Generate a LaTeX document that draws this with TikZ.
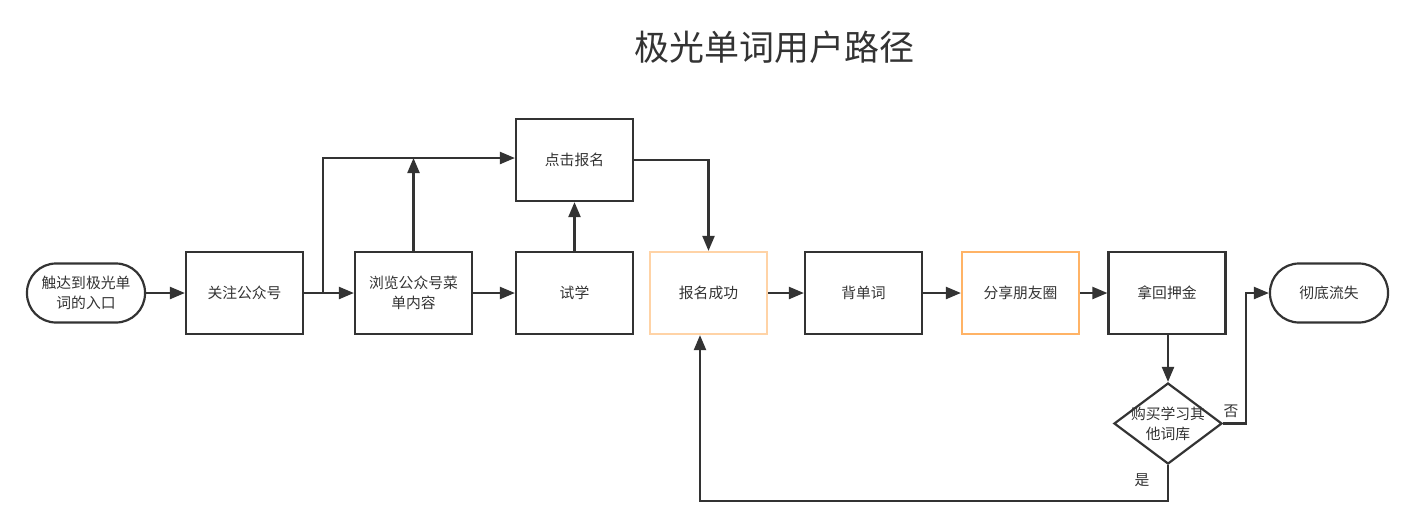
\documentclass[tikz,border=0pt]{standalone}
\usepackage{fontspec}
\setmainfont{Noto Sans CJK SC}
\usetikzlibrary{shapes.geometric,arrows.meta}
\definecolor{ln}{HTML}{333333}
\definecolor{txt}{HTML}{333333}
\definecolor{orL}{HTML}{FFD3A6}
\definecolor{orM}{HTML}{FFB366}
\tikzset{
  box/.style={draw=ln, line width=2.2pt, minimum width=117pt, minimum height=82pt, inner sep=0pt, align=center, text=txt, font=\fontsize{14.8}{20}\selectfont},
  term/.style={draw=ln, line width=2.2pt, rounded corners=29pt, minimum width=118pt, minimum height=59pt, inner sep=0pt, align=center, text=txt, font=\fontsize{14.8}{20}\selectfont},
  dec/.style={draw=ln, line width=2.2pt, diamond, minimum width=108pt, minimum height=81pt, inner sep=0pt},
  dectext/.style={align=center, text=txt, font=\fontsize{14.8}{20}\selectfont, inner sep=0pt},
  conn/.style={draw=ln, line width=2.2pt, -{Triangle[length=15pt,width=12pt]}},
  lab/.style={text=txt, font=\fontsize{14.8}{17}\selectfont, inner sep=0pt}
}
\begin{document}
\begin{tikzpicture}[x=1pt,y=-1pt]
\useasboundingbox (0,0) rectangle (1406,531);
\node[text=txt, font=\fontsize{35}{40}\selectfont, inner sep=0pt] (title) at (774,47) {极光单词用户路径};
\node[term] (start) at (86,293) {触达到极光单\\词的入口};
\node[box] (follow) at (244.5,293) {关注公众号};
\node[box] (browse) at (413.5,293) {浏览公众号菜\\单内容};
\node[box] (try) at (574.5,293) {试学};
\node[box] (click) at (574.5,160) {点击报名};
\node[box, draw=orL] (ok) at (708.5,293) {报名成功};
\node[box] (words) at (863.5,293) {背单词};
\node[box, draw=orM] (share) at (1020.5,293) {分享朋友圈};
\node[box] (back) at (1167,293) {拿回押金};
\node[term] (lost) at (1329,293) {彻底流失};
\node[dec, label={[dectext]center:{购买学习其\\他词库}}] (buy) at (1168,423.5) {};
\coordinate (j1) at (323,293);
\coordinate (j2) at (413.5,158);
\draw[conn] (start) -- (follow);
\draw[conn] (follow) -- (browse);
\draw[conn] (follow.east) -- (j1) |- (click.west |- j2);
\draw[conn] (browse.north) -- (j2);
\draw[conn] (browse) -- (try);
\draw[conn] (try) -- (click);
\draw[conn] (click.east) -| (ok.north);
\draw[conn] (ok) -- (words);
\draw[conn] (words) -- (share);
\draw[conn] (share) -- (back);
\draw[conn] (back.south -| buy.north) -- (buy.north);
\draw[conn] (buy.east) -- ++(23,0) |- (lost.west);
\draw[conn] (buy.south) -- ++(0,36) -| ([xshift=-8.5pt]ok.south);
\node[lab] (no) at (1231,411) {否};
\node[lab] (yes) at (1142,480) {是};
\end{tikzpicture}
\end{document}
